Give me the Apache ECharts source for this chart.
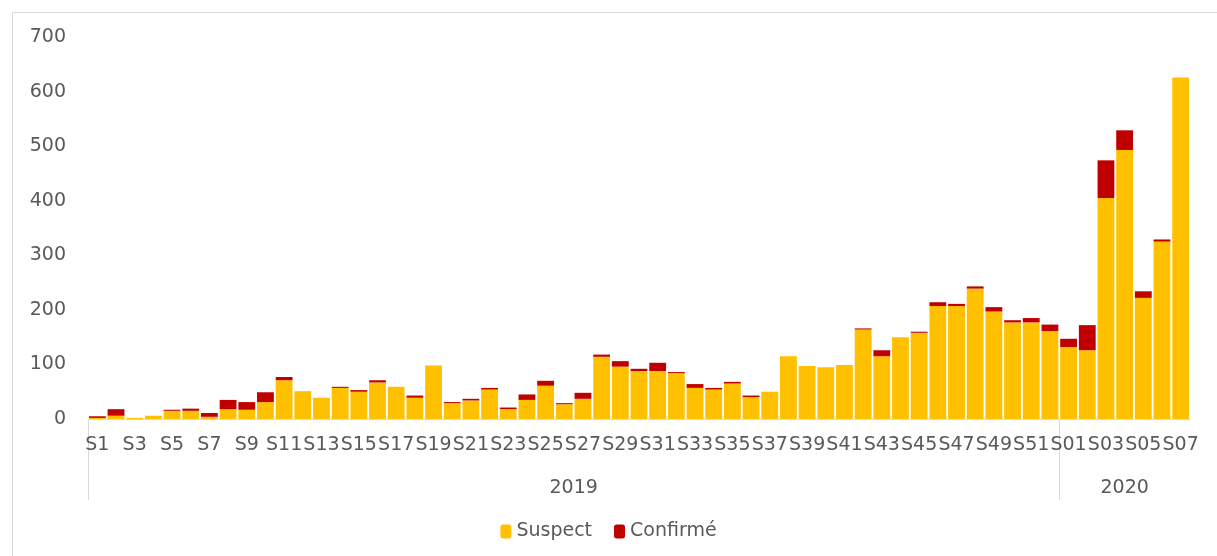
<!DOCTYPE html>
<html>
<head>
<meta charset="utf-8">
<script src="https://cdn.jsdelivr.net/npm/echarts@6/dist/echarts.min.js"></script>
<style>
  html, body { margin: 0; padding: 0; background: #fff; }
  #chart { width: 1217px; height: 556px; }
</style>
</head>
<body>
<div id="chart"></div>
<script>
// weeks of 2019 then 2020
const weeks2019 = []
for (let i = 1; i <= 52; i++) weeks2019.push('S' + i)
const weeks2020 = ['S01', 'S02', 'S03', 'S04', 'S05', 'S06', 'S07']
const weeks = weeks2019.concat(weeks2020)

const suspect = [
  2, 6, 2, 6, 15, 15, 4, 18, 17, 31,
  71, 51, 39, 57, 50, 67, 59, 39, 98, 29,
  34, 54, 18, 35, 61, 27, 37, 114, 96, 88,
  88, 84, 57, 54, 65, 40, 50, 115, 97, 95,
  99, 164, 115, 150, 158, 207, 207, 239, 197, 177,
  177, 161,
  132, 126, 405, 493, 222, 325, 626
]
const confirme = [
  3, 12, 0, 0, 2, 4, 7, 17, 14, 18,
  6, 0, 0, 2, 3, 4, 0, 4, 0, 2,
  3, 3, 3, 10, 9, 2, 11, 4, 10, 4,
  15, 2, 7, 3, 3, 3, 0, 0, 0, 0,
  0, 2, 11, 0, 2, 7, 4, 4, 8, 4,
  8, 12,
  15, 46, 69, 36, 12, 4, 0
]
const yearLabels = ['2019', '2020']

const textColor = '#595959'
const font = 'DejaVu Sans'

const chart = echarts.init(document.getElementById('chart'))
chart.setOption({
  animation: false,
  graphic: [{
    type: 'rect',
    shape: { x: 12.5, y: 12.5, width: 1230, height: 560 },
    style: { fill: 'none', stroke: '#d9d9d9', lineWidth: 1 },
    silent: true
  }],
  legend: {
    bottom: 10,
    left: 'center',
    itemWidth: 11,
    itemHeight: 14,
    itemGap: 22,
    textStyle: { color: textColor, fontSize: 19, fontFamily: font },
    data: ['Suspect', 'Confirmé']
  },
  grid: {
    left: 88,
    right: 27,
    top: 37,
    bottom: 137
  },
  xAxis: [
    {
      type: 'category',
      data: weeks,
      axisLine: { lineStyle: { color: '#d9d9d9' } },
      axisTick: { show: false },
      axisLabel: {
        interval: 1,
        color: textColor,
        fontSize: 19,
        fontFamily: font,
        margin: 17
      }
    },
    {
      type: 'value',
      position: 'bottom',
      min: 0,
      max: weeks.length,
      axisLine: { show: false },
      splitLine: { show: false },
      axisTick: {
        show: true,
        customValues: [0, weeks2019.length],
        length: 81,
        lineStyle: { color: '#d9d9d9' }
      },
      axisLabel: {
        customValues: [weeks2019.length / 2, weeks2019.length + weeks2020.length / 2],
        formatter: v => (v < weeks2019.length ? yearLabels[0] : yearLabels[1]),
        color: textColor,
        fontSize: 19,
        fontFamily: font,
        margin: 60
      }
    }
  ],
  yAxis: {
    type: 'value',
    min: 0,
    max: 700,
    interval: 100,
    axisLine: { show: false },
    axisTick: { show: false },
    splitLine: { show: false },
    axisLabel: {
      color: textColor,
      fontSize: 19,
      fontFamily: font,
      margin: 22
    }
  },
  series: [
    {
      name: 'Suspect',
      type: 'bar',
      stack: 'total',
      barCategoryGap: '10%',
      itemStyle: { color: '#FFC000' },
      data: suspect
    },
    {
      name: 'Confirmé',
      type: 'bar',
      stack: 'total',
      barCategoryGap: '10%',
      itemStyle: { color: '#C00000' },
      data: confirme
    }
  ]
})
</script>
</body>
</html>
